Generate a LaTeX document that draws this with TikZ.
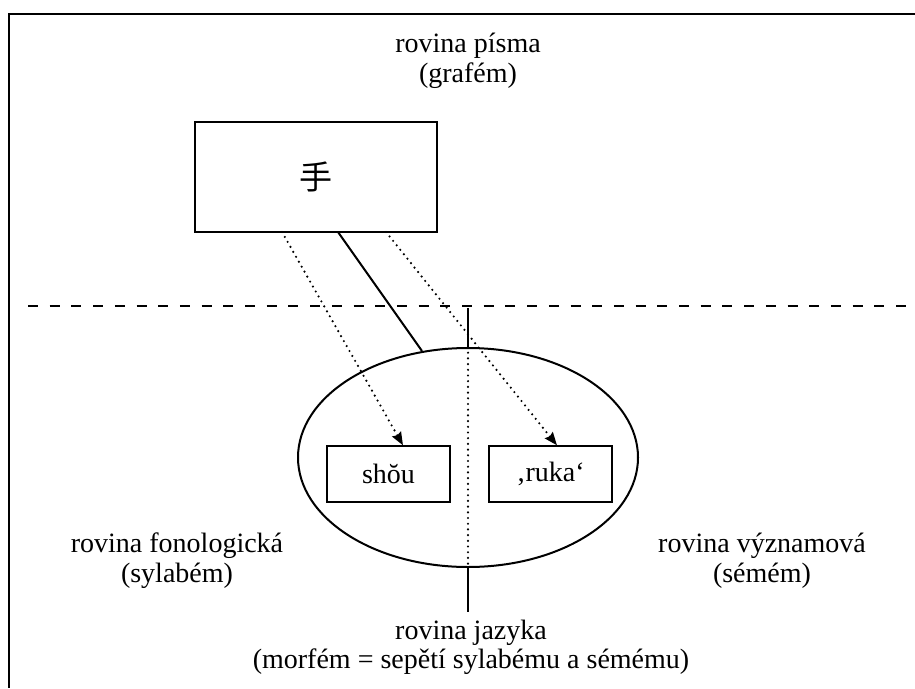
\documentclass[tikz,border=0pt]{standalone}
\usepackage{fontspec}
\setmainfont{Liberation Serif}
\newfontfamily\cjk{Noto Sans CJK SC}
\usetikzlibrary{arrows.meta,shapes.geometric}
\begin{document}
\begin{tikzpicture}[x=1pt,y=-1pt,
  lbl/.style={anchor=base,font=\fontsize{28}{30}\selectfont,inner sep=0pt},
  thick line/.style={line width=2pt},
  dotline/.style={line width=2.4pt,dash pattern=on 0pt off 5.7pt,line cap=round},
  smallbox/.style={draw,line width=1.3pt,minimum width=123pt,minimum height=56pt,inner sep=0pt,font=\fontsize{28}{30}\selectfont},
  tip/.style={-{Stealth[length=13pt,width=10pt,inset=1.5pt]}}
]
\useasboundingbox (0,0) rectangle (915,688);
% frame
\coordinate (ftr) at (915,13.5);
\coordinate (ftl) at (9,13.5);
\coordinate (fbl) at (9,688);
\draw[line width=2pt] (ftr) -- (ftl) -- (fbl);
% dashed boundary
\coordinate (dl) at (28,306);
\coordinate (dr) at (913,306);
\draw[line width=2pt,dash pattern=on 10pt off 11.7pt] (dl) -- (dr);
% texts
\node[lbl] (tpis1) at (468,52) {rovina písma};
\node[lbl] (tpis2) at (468,82) {(grafém)};
\node[lbl] (tfon1) at (177,552) {rovina fonologická};
\node[lbl] (tfon2) at (177,582) {(sylabém)};
\node[lbl] (tvyz1) at (762,552) {rovina významová};
\node[lbl] (tvyz2) at (762,582) {(sémém)};
\node[lbl] (tjaz1) at (471,639) {rovina jazyka};
\node[lbl] (tjaz2) at (471,668) {(morfém = sepětí sylabému a sémému)};
% grapheme box
\node[draw,line width=2pt,minimum width=242pt,minimum height=110pt,inner sep=0pt,font=\cjk\fontsize{33}{33}\selectfont] (graf) at (316,177) {手};
% ellipse
\node[draw,ellipse,line width=2pt,minimum width=340pt,minimum height=219pt,inner sep=0pt] (ell) at (468,457.5) {};
% inner boxes
\node[smallbox] (shou) at (388.5,474) {shŏu};
\node[smallbox] (ruka) at (550.5,474) {‚ruka‘};
% solid connector
\coordinate (gs) at (338,232);
\coordinate (es) at (422,351);
\draw[thick line] (gs) -- (es);
% dotted arrows
\coordinate (g1) at (282,232);
\coordinate (g2) at (386,232);
\draw[dotline,tip] (g1) -- (shou.north -| 403,0);
\draw[dotline,tip] (g2) -- (ruka.north -| 557,0);
% vertical divider
\coordinate (vt) at (468,308);
\coordinate (vb) at (468,612);
\draw[thick line] (vt) -- (ell.north);
\draw[dotline] (ell.north) -- (ell.south);
\draw[thick line] (ell.south) -- (vb);
\end{tikzpicture}
\end{document}
